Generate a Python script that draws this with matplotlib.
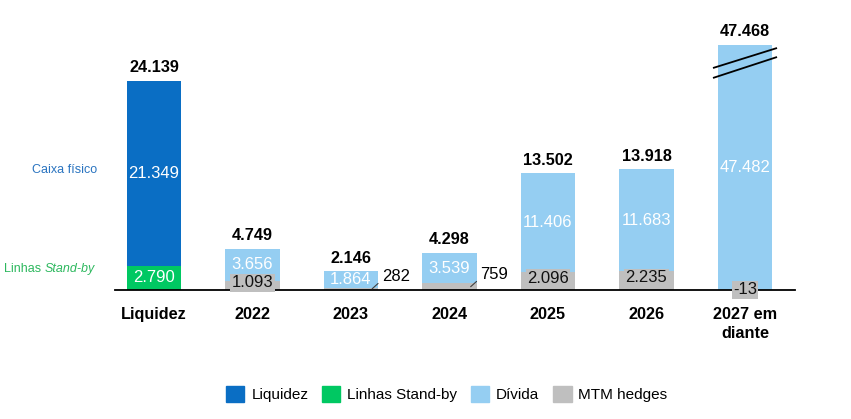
import matplotlib
matplotlib.use("Agg")
import matplotlib.pyplot as plt
from matplotlib.patches import Patch

plt.rcParams['font.family'] = ['Liberation Sans', 'DejaVu Sans']

# ---- data ----
categories = ["Liquidez", "2022", "2023", "2024", "2025", "2026", "2027 em\ndiante"]
liquidez = [21349, 0, 0, 0, 0, 0, 0]
standby = [2790, 0, 0, 0, 0, 0, 0]
mtm = [0, 1093, 282, 759, 2096, 2235, -13]
divida = [0, 3656, 1864, 3539, 11406, 11683, 47482]
totals = [24139, 4749, 2146, 4298, 13502, 13918, 47468]
axis_cap = 28300  # visual cap for the broken last bar

C_LIQ = "#0A6EC4"
C_SB = "#00C862"
C_DIV = "#95CEF2"
C_MTM = "#BFBFBF"

FS_IN = 12
FS_B = 11.7

fig = plt.figure(figsize=(8.51, 4.19), dpi=100)
ax = fig.add_axes([0, 0, 1, 1])
ax.set_xlim(-1.563, 7.076)
ax.set_ylim(-14900, 33495)
ax.axis("off")

W = 0.55
n = len(categories)
xs = list(range(n))

def fmt(v):
    return f"{v:,}".replace(",", ".")

for i in xs:
    if liquidez[i] or standby[i]:
        ax.bar(i, standby[i], W, color=C_SB, zorder=2)
        ax.bar(i, liquidez[i], W, bottom=standby[i], color=C_LIQ, zorder=2)
        ax.text(i, standby[i] / 2, fmt(standby[i]), color="white", ha="center", va="center", fontsize=FS_IN, zorder=4)
        ax.text(i, standby[i] + liquidez[i] / 2, fmt(liquidez[i]), color="white", ha="center", va="center",
                fontsize=FS_IN, zorder=4)
        top = standby[i] + liquidez[i]
    else:
        m = mtm[i]
        base = max(m, 0)
        d_disp = min(divida[i], axis_cap - base)
        ax.bar(i, m, W, color=C_MTM, zorder=2)
        ax.bar(i, d_disp, W, bottom=base, color=C_DIV, zorder=2)
        top = base + d_disp
        ax.text(i, base + d_disp / 2, fmt(divida[i]), color="white", ha="center", va="center", fontsize=FS_IN,
                zorder=4, bbox=dict(boxstyle="square,pad=0.08", fc=C_DIV, ec="none"))
        if 0 < m < 1000:
            ax.annotate(fmt(m), xy=(i + W / 2 - 0.06, m / 2), xytext=(7, 9), textcoords="offset points",
                        ha="left", va="center", fontsize=FS_IN, color="black", zorder=4,
                        arrowprops=dict(arrowstyle="-", color="#404040", lw=0.8, shrinkA=1, shrinkB=0,
                                        relpos=(0, 0.25)))
        else:
            ax.text(i, m / 2 + 300 if m > 0 else 0, fmt(m), color="#111111", ha="center", va="center",
                    fontsize=FS_IN, zorder=4, bbox=dict(boxstyle="square,pad=0.08", fc=C_MTM, ec="none"))
        if divida[i] + base > axis_cap:
            for lo, hi in [(-2660, -350), (-3810, -1390)]:
                ax.plot([i - 0.325, i + 0.325], [axis_cap + lo, axis_cap + hi], color="black", lw=1.3, zorder=5,
                        solid_capstyle="butt")
    ax.annotate(fmt(totals[i]), xy=(i, top), xytext=(0, 4), textcoords="offset points",
                ha="center", va="bottom", fontsize=FS_B, fontweight="bold", zorder=4)
    ax.annotate(categories[i], xy=(i, 0), xytext=(0, -12.5), textcoords="offset points",
                ha="center", va="top", fontsize=FS_B, fontweight="bold", linespacing=1.3)

# baseline
ax.plot([-0.396, 6.51], [0, 0], color="black", lw=1.3, zorder=3)

# left side labels
ax.text(-0.58, standby[0] + liquidez[0] / 2 + 400, "Caixa físico", ha="right", va="center", fontsize=9,
        color="#2A74C0")
t1 = ax.text(-0.6, standby[0] / 2 + 1000, "Stand-by", ha="right", va="center", fontsize=9, color="#2DB85E",
             style="italic")
ax.annotate("Linhas ", xy=(0, 0), xycoords=t1, ha="right", va="bottom", fontsize=9, color="#2DB85E")

# legend
handles = [Patch(color=C_LIQ, label="Liquidez"), Patch(color=C_SB, label="Linhas Stand-by"),
           Patch(color=C_DIV, label="Dívida"), Patch(color=C_MTM, label="MTM hedges")]
fig.legend(handles=handles, loc="center", bbox_to_anchor=(0.525, 0.06), ncol=4, frameon=False, fontsize=11,
           handlelength=1.2, handleheight=1.2, handletextpad=0.45, columnspacing=0.9)

fig.savefig("out.png", dpi=100)
